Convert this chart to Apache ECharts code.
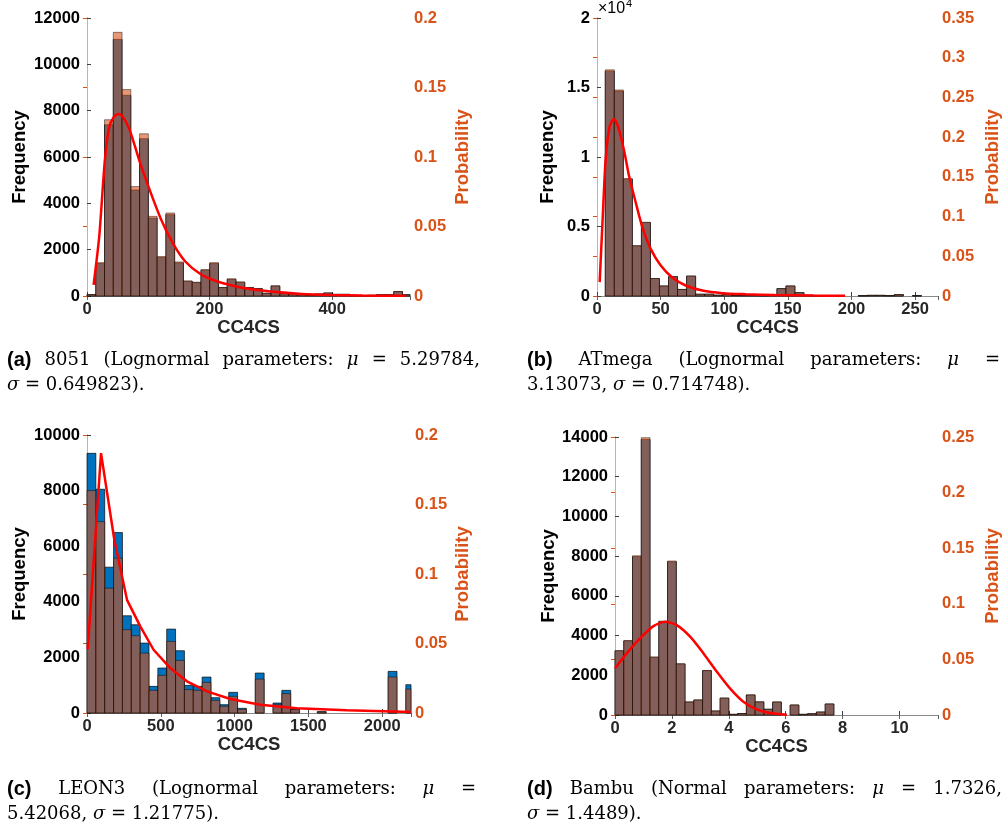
<!DOCTYPE html>
<html>
<head>
<meta charset="utf-8">
<script src="https://cdn.jsdelivr.net/npm/echarts@6/dist/echarts.min.js"></script>
<style>
  html, body { margin: 0; background: #fff; }
  #main { width: 1004px; height: 830px; }
</style>
</head>
<body>
<div id="main"></div>
<script>
// (a) 8051 histogram: bins start at 0, width 14.3
var aBinStart = 0, aBinWidth = 14.3
var aFreq = [60, 1400, 7390, 11075, 8664, 4577, 6787, 3365, 1660, 3509, 1430, 635, 578, 1112, 1400, 361, 722, 592, 361, 317,
  115, 430, 100, 86, 58, 30, 86, 130, 72, 72, 15, 15, 30, 58, 58, 190, 58]
var aProb = [0.00103, 0.024, 0.1268, 0.1897, 0.1485, 0.0787, 0.1167, 0.0573, 0.0284, 0.0597, 0.0245, 0.01083, 0.00992, 0.019, 0.024,
  0.00617, 0.01233, 0.01013, 0.00617, 0.00542, 0.00197, 0.00735, 0.00172, 0.00147, 0.001, 0.00052, 0.00147, 0.00222, 0.00123,
  0.00123, 0.00025, 0.00025, 0.00052, 0.001, 0.001, 0.00325, 0.001]
var aCurveX = [10.8, 20, 29, 36, 44, 52, 60, 70, 85, 100, 120, 140, 160, 185, 210, 240, 266, 300, 350, 400, 450, 520]
var aCurveY = [0.008, 0.043, 0.097, 0.121, 0.129, 0.131, 0.128, 0.119, 0.098, 0.079, 0.056, 0.038, 0.025, 0.0158, 0.0108, 0.0072,
  0.005, 0.0032, 0.0015, 0.0007, 0.0003, 0.0001]

// (b) ATmega histogram: bins start at 6.5, width 7.1
var bBinStart = 6.5, bBinWidth = 7.1
var bFreq = [16175, 14740, 8400, 3600, 5280, 1250, 720, 1390, 470, 1430, 130, 130, 60, 108, 40, 50, 50, 25, 50, 530,
  720, 240, 50, 25, 25, 25, 0, 0, 25, 50, 50, 25, 100, 0, 25, 0]
var bProb = [0.2847, 0.2594, 0.1478, 0.0634, 0.0929, 0.022, 0.01267, 0.02446, 0.00827, 0.02517, 0.00229, 0.00229, 0.00106, 0.0019,
  0.0007, 0.00088, 0.00088, 0.00044, 0.00088, 0.00933, 0.01267, 0.00422, 0.00088, 0.00044, 0.00044, 0.00044, 0, 0, 0.00044,
  0.00088, 0.00088, 0.00044, 0.00176, 0, 0.00044, 0]
var bCurveX = [2.1, 4.2, 6.8, 10, 13.4, 16.8, 21.3, 25.2, 30.4, 35.7, 42.2, 50.1, 59.2, 69.7, 82.8, 98.6, 117, 140, 170, 195]
var bCurveY = [0.0174, 0.0886, 0.172, 0.214, 0.2227, 0.212, 0.183, 0.151, 0.118, 0.0865, 0.0593, 0.0383, 0.0233, 0.0132, 0.0069,
  0.0036, 0.0023, 0.0012, 0.0006, 0.0003]

// (c) LEON3 histogram: bins start at 0, width 60
var cBinStart = 0, cBinWidth = 60
var cFreq = [9340, 8048, 5245, 6491, 3497, 3174, 2515, 958, 1617, 3018, 2240, 994, 958, 1293, 551, 299, 743, 168, 0, 1437,
  0, 359, 814, 144, 0, 0, 50, 0, 0, 0, 0, 0, 0, 0, 1497, 0, 1018]
var cProb = [0.16, 0.1377, 0.0898, 0.1114, 0.0599, 0.0556, 0.0431, 0.0163, 0.0271, 0.0515, 0.0378, 0.0168, 0.0163, 0.022, 0.0091,
  0.0048, 0.012, 0.0026, 0, 0.0244, 0, 0.006, 0.0139, 0.0024, 0, 0, 0.0008, 0, 0, 0, 0, 0, 0, 0, 0.0259, 0, 0.0172]
var cCurveX = [5, 95, 185, 271, 361, 451, 564, 677, 813, 971, 1174, 1422, 1761, 2194]
var cCurveY = [0.046, 0.187, 0.1246, 0.0814, 0.0623, 0.0455, 0.0323, 0.0228, 0.0156, 0.0101, 0.006, 0.0034, 0.0019, 0.0007]

// (d) Bambu histogram: bins start at 0, width 0.3077
var dBinStart = 0, dBinWidth = 0.3077
var dFreq = [3226, 3730, 7975, 13880, 2905, 4700, 7715, 2568, 655, 756, 2233, 202, 850, 34, 75, 1008, 660, 290, 654, 0,
  503, 34, 67, 151, 554]
var dProb = [0.0579, 0.0669, 0.1432, 0.2494, 0.0522, 0.0844, 0.1385, 0.0461, 0.01175, 0.01357, 0.0401, 0.00363, 0.01525, 0.00061,
  0.00135, 0.0181, 0.01184, 0.0052, 0.01174, 0, 0.00903, 0.00061, 0.0012, 0.00271, 0.00994]
var dCurveX = [0, 0.41, 0.88, 1.35, 1.76, 2.17, 2.64, 3.11, 3.58, 4.04, 4.51, 4.98, 5.45, 6.04]
var dCurveY = [0.0419, 0.0554, 0.0689, 0.0799, 0.0838, 0.0808, 0.0704, 0.0554, 0.0389, 0.024, 0.012, 0.0051, 0.0018, 0.0003]

var BLUE = '#0072BD'
var ORANGE = '#D95319'
var SANS = 'Liberation Sans'
var SERIF = 'DejaVu Serif'

// panel layout: grid box, axis ranges, name gaps
var panels = [
  { grid: [87, 18, 323, 278], xMax: 527, xInt: 200, yMax: 12000, yInt: 2000, pMax: 0.2,
    start: aBinStart, width: aBinWidth, freq: aFreq, prob: aProb, cx: aCurveX, cy: aCurveY, smooth: true,
    leftGap: 58, rightGap: 43 },
  { grid: [597, 18, 341, 278], xMax: 268, xInt: 50, yMax: 20000, yInt: 5000, pMax: 0.35, exp4: true,
    start: bBinStart, width: bBinWidth, freq: bFreq, prob: bProb, cx: bCurveX, cy: bCurveY, smooth: true,
    leftGap: 40, rightGap: 45 },
  { grid: [87, 435, 324, 278], xMax: 2195, xInt: 500, yMax: 10000, yInt: 2000, pMax: 0.2,
    start: cBinStart, width: cBinWidth, freq: cFreq, prob: cProb, cx: cCurveX, cy: cCurveY, smooth: false,
    leftGap: 58, rightGap: 42 },
  { grid: [615, 437, 323, 278], xMax: 11.35, xInt: 2, yMax: 14000, yInt: 2000, pMax: 0.25,
    start: dBinStart, width: dBinWidth, freq: dFreq, prob: dProb, cx: dCurveX, cy: dCurveY, smooth: true,
    leftGap: 56, rightGap: 45 }
]

function barItem (start, width, fill, stroke) {
  return function (params, api) {
    var i = api.value(0)
    var h = api.value(1)
    if (!h) return null
    var p0 = api.coord([start + i * width, h])
    var p1 = api.coord([start + (i + 1) * width, 0])
    var cs = params.coordSys
    var rect = echarts.graphic.clipRectByRect(
      { x: p0[0], y: p0[1], width: p1[0] - p0[0], height: p1[1] - p0[1] },
      { x: cs.x, y: cs.y, width: cs.width, height: cs.height })
    if (!rect) return null
    return { type: 'rect', shape: rect, style: { fill: fill, stroke: stroke, lineWidth: 0.8 } }
  }
}

function plain (v) { return String(v) }
var tickFont = { fontFamily: SANS, fontWeight: 'bold', fontSize: 16.5 }
var nameFont = { fontFamily: SANS, fontWeight: 'bold', fontSize: 18.5 }

var grids = [], xAxes = [], yAxes = [], series = []
panels.forEach(function (p, k) {
  grids.push({ left: p.grid[0], top: p.grid[1], width: p.grid[2], height: p.grid[3], containLabel: false, outerBoundsMode: 'none' })
  // bottom x axis
  xAxes.push({
    gridIndex: k, type: 'value', min: 0, max: p.xMax, interval: p.xInt,
    axisLine: { lineStyle: { color: '#7a7a7a', width: 1 } },
    axisTick: { inside: true, length: 4, lineStyle: { color: '#404040' } },
    axisLabel: Object.assign({ color: '#262626', margin: 5, formatter: plain, showMaxLabel: p.xMax % p.xInt === 0 }, tickFont),
    splitLine: { show: false },
    name: 'CC4CS', nameLocation: 'middle', nameGap: 19,
    nameTextStyle: Object.assign({ color: '#262626' }, nameFont)
  })
  // top x axis, box edge only
  xAxes.push({
    gridIndex: k, type: 'value', position: 'top', min: 0, max: p.xMax, interval: p.xInt,
    axisLine: { lineStyle: { color: '#8a8a8a', width: 1 } },
    axisTick: { inside: true, length: 4, lineStyle: { color: '#606060' } },
    axisLabel: { show: false }, splitLine: { show: false }
  })
  yAxes.push({
    gridIndex: k, type: 'value', position: 'left', min: 0, max: p.yMax, interval: p.yInt,
    axisLine: { show: true, lineStyle: { color: '#7a7a7a', width: 1 } },
    axisTick: { show: true, inside: true, length: 4, lineStyle: { color: '#404040' } },
    axisLabel: Object.assign({
      color: '#000', margin: 7,
      formatter: p.exp4 ? function (v) { return String(v / 10000) } : plain
    }, tickFont),
    splitLine: { show: false },
    name: 'Frequency', nameLocation: 'middle', nameGap: p.leftGap,
    nameTextStyle: Object.assign({ color: '#000' }, nameFont)
  })
  yAxes.push({
    gridIndex: k, type: 'value', position: 'right', min: 0, max: p.pMax, interval: 0.05,
    axisLine: { show: true, lineStyle: { color: '#EBA583', width: 1 } },
    axisTick: { show: true, inside: true, length: 4, lineStyle: { color: ORANGE } },
    axisLabel: Object.assign({ color: ORANGE, margin: 4, formatter: plain }, tickFont),
    splitLine: { show: false },
    name: 'Probability', nameLocation: 'middle', nameGap: p.rightGap,
    nameTextStyle: Object.assign({ color: ORANGE }, nameFont)
  })
  series.push({
    type: 'custom', xAxisIndex: 2 * k, yAxisIndex: 2 * k,
    renderItem: barItem(p.start, p.width, BLUE, 'rgba(0,0,0,0.85)'),
    data: p.freq.map(function (v, i) { return [i, v] }),
    encode: { x: -1, y: 1 }, silent: true, animation: false, z: 2
  })
  series.push({
    type: 'custom', xAxisIndex: 2 * k, yAxisIndex: 2 * k + 1,
    renderItem: barItem(p.start, p.width, 'rgba(217,83,25,0.6)', 'rgba(0,0,0,0.55)'),
    data: p.prob.map(function (v, i) { return [i, v] }),
    encode: { x: -1, y: 1 }, silent: true, animation: false, z: 3
  })
  series.push({
    type: 'line', xAxisIndex: 2 * k, yAxisIndex: 2 * k + 1,
    data: p.cx.map(function (x, i) { return [x, p.cy[i]] }),
    symbol: 'none', smooth: p.smooth ? 0.25 : false,
    lineStyle: { color: '#FF0000', width: 2.5 }, animation: false, z: 4
  })
})

// captions, first lines justified like the LaTeX subcaptions
var measureCtx = document.createElement('canvas').getContext('2d')
function word (t, kind) { return { t: t, kind: kind || 'r' } }
function styleOf (kind) {
  if (kind === 'b') return { fontFamily: SANS, fontWeight: 'bold', fontStyle: 'normal', fontSize: 20 }
  if (kind === 'i') return { fontFamily: SERIF, fontWeight: 'normal', fontStyle: 'italic', fontSize: 18 }
  return { fontFamily: SERIF, fontWeight: 'normal', fontStyle: 'normal', fontSize: 18 }
}
function lineItems (words, x0, y, x1) {
  var widths = words.map(function (w) {
    var s = styleOf(w.kind)
    measureCtx.font = s.fontStyle + ' ' + s.fontWeight + ' ' + s.fontSize + 'px "' + s.fontFamily + '"'
    return measureCtx.measureText(w.t).width
  })
  measureCtx.font = '18px "' + SERIF + '"'
  var gap = measureCtx.measureText(' ').width
  if (x1 != null) {
    var total = widths.reduce(function (a, b) { return a + b }, 0)
    gap = (x1 - x0 - total) / (words.length - 1)
  }
  var x = x0
  return words.map(function (w, k) {
    var s = styleOf(w.kind)
    var el = { type: 'text', x: x, y: y, silent: true,
      style: Object.assign({ text: w.t, fill: '#000', verticalAlign: 'middle' }, s) }
    x += widths[k] + gap
    return el
  })
}

var graphics = []
graphics = graphics.concat(
  lineItems([word('(a)', 'b'), word('8051'), word('(Lognormal'), word('parameters:'), word('μ', 'i'), word('='), word('5.29784,')], 7, 360, 480),
  lineItems([word('σ', 'i'), word('='), word('0.649823).')], 7, 385),
  lineItems([word('(b)', 'b'), word('ATmega'), word('(Lognormal'), word('parameters:'), word('μ', 'i'), word('=')], 527, 360, 1000),
  lineItems([word('3.13073,'), word('σ', 'i'), word('='), word('0.714748).')], 527, 385),
  lineItems([word('(c)', 'b'), word('LEON3'), word('(Lognormal'), word('parameters:'), word('μ', 'i'), word('=')], 7, 789, 476),
  lineItems([word('5.42068,'), word('σ', 'i'), word('='), word('1.21775).')], 7, 814),
  lineItems([word('(d)', 'b'), word('Bambu'), word('(Normal'), word('parameters:'), word('μ', 'i'), word('='), word('1.7326,')], 527, 789, 1002),
  lineItems([word('σ', 'i'), word('='), word('1.4489).')], 527, 814)
)
// x10^4 exponent marker of panel (b)
graphics.push({ type: 'text', x: 598, y: 9, silent: true,
  style: { text: '×10', fill: '#000', fontFamily: SANS, fontSize: 16, verticalAlign: 'middle' } })
graphics.push({ type: 'text', x: 626, y: 4, silent: true,
  style: { text: '4', fill: '#000', fontFamily: SANS, fontSize: 11, verticalAlign: 'middle' } })

var chart = echarts.init(document.getElementById('main'))
chart.setOption({
  backgroundColor: '#fff',
  animation: false,
  grid: grids,
  xAxis: xAxes,
  yAxis: yAxes,
  series: series,
  graphic: graphics
})
</script>
</body>
</html>
